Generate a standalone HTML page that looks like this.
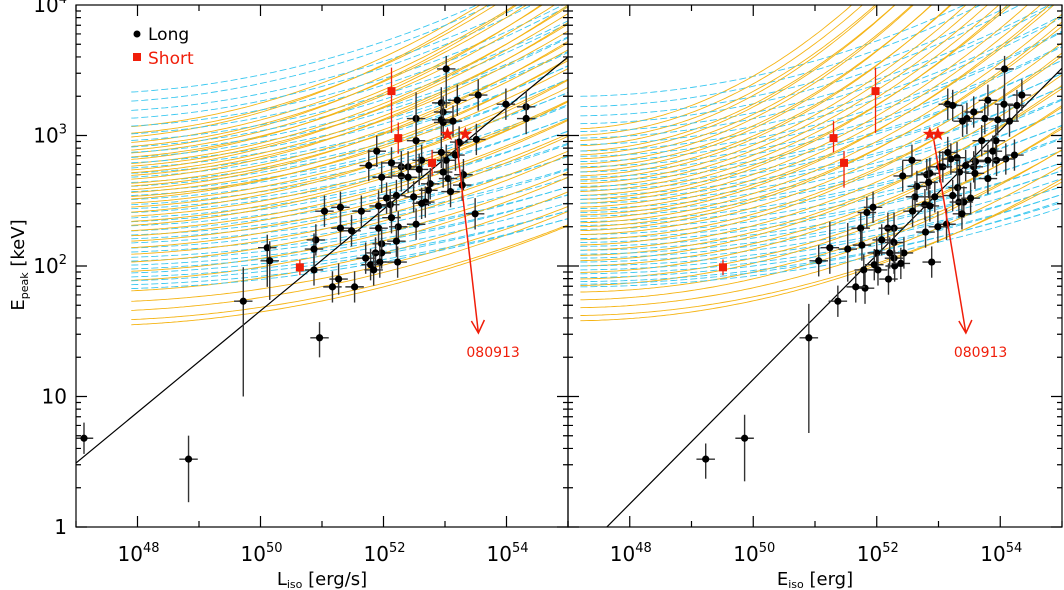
<!DOCTYPE html>
<html><head><meta charset="utf-8"><style>
body{margin:0;background:#fff}
svg{display:block;font-family:"DejaVu Sans","Liberation Sans",sans-serif}
</style></head><body>
<svg id="chart" width="1064" height="590" viewBox="0 0 1064 590" xmlns="http://www.w3.org/2000/svg">
<defs>
<clipPath id="clipL"><rect x="76" y="5" width="492" height="522"/></clipPath>
<clipPath id="clipR"><rect x="568" y="5" width="494" height="522"/></clipPath>
</defs>
<g id="layer"></g>
<g>
<circle cx="137" cy="34" r="3.5" fill="#000"/>
<text x="148" y="40" font-size="17" fill="#000">Long</text>
<rect x="133" y="53" width="8" height="8" fill="#f01e0a"/>
<text x="148" y="64" font-size="17" fill="#f01e0a">Short</text>
</g>
<text transform="translate(24,265) rotate(-90)" text-anchor="middle" font-size="18">E<tspan font-size="11" dy="4">peak</tspan><tspan dy="-4"> [keV]</tspan></text>
<text x="322" y="585" text-anchor="middle" font-size="18">L<tspan font-size="11" dy="3">iso</tspan><tspan dy="-3"> [erg/s]</tspan></text>
<text x="815" y="585" text-anchor="middle" font-size="18">E<tspan font-size="11" dy="3">iso</tspan><tspan dy="-3"> [erg]</tspan></text>
</svg>
<script>
// ---- data ----
const xTickLabels = [48, 50, 52, 54];
const yTickValues = [0, 1, 2, 3, 4];
const yTickLabels = ["1", "10", "10²", "10³", "10⁴"];

const longL = [[53.02,3.51],[53.54,3.31],[53.99,3.24],[54.32,3.22],[54.32,3.13],[53.20,3.27],[52.94,3.25],[52.97,3.18],[52.94,3.12],[52.97,3.10],[53.13,3.11],[52.53,3.13],[52.53,2.96],[53.51,2.97],[53.23,2.95],[51.89,2.88],[52.13,2.79],[51.76,2.77],[52.29,2.76],[52.40,2.76],[52.62,2.81],[52.58,2.74],[51.97,2.68],[52.29,2.69],[52.40,2.68],[52.94,2.87],[53.02,2.81],[53.17,2.85],[52.97,2.72],[53.05,2.67],[53.30,2.70],[53.28,2.62],[53.09,2.57],[52.76,2.63],[52.73,2.58],[52.49,2.53],[52.21,2.54],[52.05,2.52],[51.92,2.46],[52.11,2.47],[52.68,2.49],[52.62,2.48],[51.30,2.45],[51.04,2.42],[51.64,2.42],[52.13,2.37],[53.49,2.40],[51.30,2.29],[51.48,2.27],[51.92,2.29],[52.24,2.30],[52.53,2.32],[50.90,2.20],[50.87,2.13],[50.11,2.14],[50.15,2.04],[52.21,2.19],[51.97,2.17],[51.87,2.10],[51.97,2.10],[51.71,2.06],[51.94,2.03],[52.23,2.03],[51.79,2.01],[51.84,1.97],[50.87,1.97],[51.27,1.90],[51.17,1.84],[51.53,1.84],[49.72,1.73],[50.96,1.45],[47.13,0.68],[48.83,0.52]];
const longR = [[54.07,3.51],[54.35,3.31],[54.27,3.23],[54.06,3.24],[54.15,3.11],[53.96,3.12],[53.80,3.27],[53.75,3.13],[53.57,3.18],[53.46,3.13],[53.39,3.11],[53.15,3.24],[53.23,3.23],[53.70,2.96],[53.93,2.96],[53.88,2.88],[54.09,2.82],[53.94,2.81],[54.23,2.85],[53.80,2.81],[53.80,2.67],[53.60,2.80],[53.57,2.76],[53.59,2.71],[53.44,2.77],[53.34,2.72],[53.30,2.83],[53.20,2.82],[53.15,2.87],[53.07,2.76],[53.02,2.76],[52.57,2.81],[52.42,2.69],[52.65,2.61],[52.62,2.53],[52.58,2.42],[52.81,2.70],[52.86,2.71],[52.84,2.64],[52.78,2.47],[52.86,2.46],[52.94,2.53],[53.23,2.54],[53.31,2.60],[53.33,2.49],[53.41,2.49],[53.52,2.52],[53.38,2.40],[53.13,2.32],[52.99,2.30],[52.79,2.26],[52.89,2.03],[51.94,2.45],[51.84,2.41],[51.74,2.29],[51.76,2.16],[51.53,2.13],[51.24,2.14],[51.06,2.04],[52.08,2.20],[52.00,2.10],[52.18,2.29],[52.28,2.29],[52.28,2.18],[52.21,2.10],[52.44,2.10],[52.28,2.06],[51.96,2.01],[52.02,1.97],[51.79,1.97],[52.29,2.00],[52.39,2.02],[52.19,1.90],[51.81,1.83],[51.66,1.84],[51.37,1.73],[50.90,1.45],[49.23,0.52],[49.86,0.68]];
const longErrL = {0:[0.3,0.1],54:[0.3,0.1],55:[0.3,0.15],69:[0.73,0.26],70:[0.15,0.12],72:[0.33,0.18],12:[0.2,0.2],11:[0.2,0.2]};
const longErrR = {0:[0.3,0.1],77:[0.15,0.12],78:[0.33,0.18],56:[0.25,0.2],57:[0.2,0.2],76:[0.73,0.26]};
const shortL = [[52.13,3.34,0.32,0.18],[52.24,2.98,0.12,0.12],[52.79,2.79,0.1,0.1],[50.64,1.99,0.06,0.06]];
const shortR = [[51.98,3.34,0.32,0.18],[51.30,2.98,0.11,0.13],[51.47,2.79,0.19,0.09],[49.51,1.99,0.06,0.06]];
const starsL = [[53.04,3.01],[53.33,3.01]];
const starsR = [[52.86,3.01],[52.99,3.01]];
const fitL = [0.49, 0.389];
const fitR = [-0.30, 0.477];
const orangeAL = [3.05,3.0,2.97,2.93,2.9,2.87,2.85,2.82,2.8,2.77,2.75,2.72,2.7,2.68,2.65,2.62,2.6,2.57,2.55,2.52,2.5,2.47,2.44,2.4,2.37,2.33,2.3,2.26,2.22,2.18,2.13,2.08,2.02,1.95,1.88,1.8,1.72,1.65,1.58,1.54];
const orangeQL = [0.022,0.0215,0.023,0.021,0.0205,0.022,0.02,0.0195,0.021,0.019,0.0185,0.02,0.018,0.0175,0.019,0.017,0.0165,0.018,0.016,0.0155,0.017,0.015,0.0145,0.016,0.014,0.0145,0.015,0.0135,0.014,0.013,0.0135,0.0125,0.013,0.012,0.0125,0.012,0.0115,0.012,0.0115,0.012];
const cyanAL = [3.32,3.25,3.18,3.12,3.06,3.0,2.95,2.9,2.86,2.82,2.78,2.74,2.7,2.67,2.63,2.6,2.56,2.53,2.5,2.46,2.43,2.4,2.36,2.33,2.3,2.26,2.23,2.2,2.17,2.13,2.1,2.06,2.03,2.0,1.97,1.94,1.91,1.88,1.85,1.82];
const cyanQL = [0.016,0.0165,0.0155,0.016,0.015,0.0155,0.0145,0.015,0.014,0.0145,0.0135,0.014,0.013,0.0135,0.0125,0.013,0.012,0.0125,0.0115,0.012,0.011,0.0115,0.0105,0.011,0.01,0.0105,0.0095,0.01,0.009,0.0095,0.009,0.0085,0.009,0.0085,0.009,0.0085,0.008,0.0085,0.008,0.0085];
const orangeAR = [3.05,3.0,2.96,2.92,2.88,2.85,2.82,2.78,2.75,2.72,2.69,2.66,2.63,2.6,2.57,2.54,2.51,2.48,2.45,2.42,2.39,2.36,2.33,2.3,2.27,2.24,2.2,2.16,2.12,2.08,2.04,2.0,1.95,1.9,1.85,1.8,1.74,1.68,1.62,1.58];
const orangeQR = [0.045,0.044,0.042,0.043,0.04,0.041,0.038,0.039,0.036,0.037,0.034,0.035,0.033,0.032,0.031,0.03,0.029,0.03,0.028,0.027,0.026,0.027,0.025,0.024,0.025,0.023,0.022,0.023,0.021,0.02,0.021,0.019,0.02,0.018,0.019,0.017,0.018,0.017,0.016,0.017];
const cyanAR = [3.3,3.22,3.15,3.09,3.03,2.98,2.93,2.88,2.84,2.8,2.76,2.72,2.68,2.65,2.61,2.58,2.54,2.51,2.48,2.44,2.41,2.38,2.34,2.31,2.28,2.24,2.21,2.18,2.15,2.12,2.09,2.06,2.03,2.0,1.97,1.94,1.91,1.88,1.86,1.84];
const cyanQR = [0.017,0.0175,0.0165,0.017,0.016,0.0165,0.0155,0.016,0.015,0.0155,0.0145,0.015,0.014,0.0145,0.0135,0.014,0.013,0.0135,0.0125,0.013,0.012,0.0125,0.0115,0.012,0.011,0.0115,0.0105,0.011,0.01,0.0105,0.01,0.0105,0.01,0.0095,0.01,0.0095,0.01,0.0095,0.01,0.0095];

// ---- scales ----
const NS = "http://www.w3.org/2000/svg";
const layer = document.getElementById('layer');
const yS = v => 527 - v * 130.5;
const xSL = v => 76 + (v - 47) * 61.5;
const xSR = v => 568 + (v - 47) * 61.75;
function mk(tag, attrs, parent) {
  const e = document.createElementNS(NS, tag);
  for (const k in attrs) e.setAttribute(k, attrs[k]);
  (parent || layer).appendChild(e);
  return e;
}
function curve(a, q, xs, x0, g, color, dash, i, side) {
  let d = "";
  for (let v = x0; v <= 55.01; v += 0.05) {
    const e = a + q * (v - 47) * (v - 47);
    d += (d ? "L" : "M") + xs(v).toFixed(1) + "," + yS(e).toFixed(1);
  }
  const p = mk('path', {d: d, fill: 'none', stroke: color, 'stroke-width': 0.9}, g);
  if (dash) p.setAttribute('stroke-dasharray', '7,3');
  
  
}
function panel(side, xs, clip, oA, oQ, cA, cQ, longs, errs, shorts, stars, fit, x0) {
  const g = mk('g', {'clip-path': 'url(#' + clip + ')'});
  
  
  const n = Math.max(oA.length, cA.length);
  for (let i = 0; i < n; i++) {
    if (i < cA.length) curve(cA[i], cQ[i], xs, x0, g, '#3cc8f0', true, i, side);
    if (i < oA.length) curve(oA[i], oQ[i], xs, x0, g, '#f5b414', false, i, side);
  }
  const fl = mk('line', {x1: xs(47), y1: yS(fit[0]), x2: xs(55), y2: yS(fit[0] + 8 * fit[1]), stroke: '#000', 'stroke-width': 1.2}, g);
  
  
  longs.forEach((p, i) => {
    const er = errs[i] || [0.12, 0.12];
    const eb = mk('line', {x1: xs(p[0]), x2: xs(p[0]), y1: yS(p[1] - er[0]), y2: yS(p[1] + er[1]), stroke: '#333', 'stroke-width': 1.4}, g);
    
    
    const hb = mk('line', {x1: xs(p[0] - 0.15), x2: xs(p[0] + 0.15), y1: yS(p[1]), y2: yS(p[1]), stroke: '#333', 'stroke-width': 1.4}, g);
    
    
    const c = mk('circle', {cx: xs(p[0]), cy: yS(p[1]), r: 3.6, fill: '#000'}, g);
    
    
  });
  shorts.forEach(p => {
    const eb = mk('line', {x1: xs(p[0]), x2: xs(p[0]), y1: yS(p[1] - p[2]), y2: yS(p[1] + p[3]), stroke: '#f01e0a', 'stroke-width': 1.3}, g);
    
    
    const r = mk('rect', {x: xs(p[0]) - 4, y: yS(p[1]) - 4, width: 8, height: 8, fill: '#f01e0a'}, g);
    
    
  });
  stars.forEach(p => {
    const cx = xs(p[0]), cy = yS(p[1]);
    let pts = "";
    for (let k = 0; k < 10; k++) {
      const rr = k % 2 ? 3 : 7.5, ang = -Math.PI / 2 + k * Math.PI / 5;
      pts += (cx + rr * Math.cos(ang)).toFixed(1) + "," + (cy + rr * Math.sin(ang)).toFixed(1) + " ";
    }
    const s = mk('polygon', {points: pts, fill: '#f01e0a'}, g);
    
    
  });
  const sx = xs((stars[0][0] + stars[1][0]) / 2), sy = yS(stars[0][1]) + 6;
  const ex = sx + (side === 'left' ? 22 : 32), ey = 333;
  const ar = mk('path', {d: `M${sx},${sy}L${ex},${ey}M${ex - 7},${ey - 12}L${ex},${ey}L${ex + 6},${ey - 13}`, stroke: '#f01e0a', 'stroke-width': 1.5, fill: 'none'});
  
  
  const lt = mk('text', {x: ex - 12, y: 357, 'font-size': 14, fill: '#f01e0a'});
  lt.textContent = '080913';
  
  
}
panel('left', xSL, 'clipL', orangeAL, orangeQL, cyanAL, cyanQL, longL, longErrL, shortL, starsL, fitL, 47.9);
panel('right', xSR, 'clipR', orangeAR, orangeQR, cyanAR, cyanQR, longR, longErrR, shortR, starsR, fitR, 47.2);

// ---- axes ----
function axes(side, xs, x0, x1) {
  const g = mk('g', {stroke: '#000', 'stroke-width': 1.2, fill: 'none'});
  
  
  const fr = mk('rect', {x: x0, y: 5, width: x1 - x0, height: 522}, g);
  
  
  for (let d = 47; d <= 55; d++) {
    const x = xs(d), L = d % 2 === 0 ? 11 : 6;
    const t = mk('path', {d: `M${x},527v${-L}M${x},5v${L}`}, g);
    
    
  }
  for (let d = 0; d < 4; d++) for (let m = 1; m < 10; m++) {
    const y = yS(d + Math.log10(m)), L = m === 1 ? 11 : 5;
    const t = mk('path', {d: `M${x0},${y}h${L}M${x1},${y}h${-L}`}, g);
    
    
  }
  xTickLabels.forEach(v => {
    const t = mk('text', {x: xs(v) - 20, y: 561, 'font-size': 20, fill: '#000'});
    t.innerHTML = '10<tspan font-size="13" dy="-9">' + v + '</tspan>';
    
    
  });
}
axes('left', xSL, 76, 568);
axes('right', xSR, 568, 1062);
yTickValues.forEach((v, i) => {
  const t = mk('text', {x: 67, y: yS(v) + 7, 'font-size': 20, 'text-anchor': 'end', fill: '#000'});
  if (i >= 2) t.innerHTML = '10<tspan font-size="13" dy="-9">' + v + '</tspan>';
  else t.textContent = yTickLabels[i];
  
  
});
</script>
</body></html>
